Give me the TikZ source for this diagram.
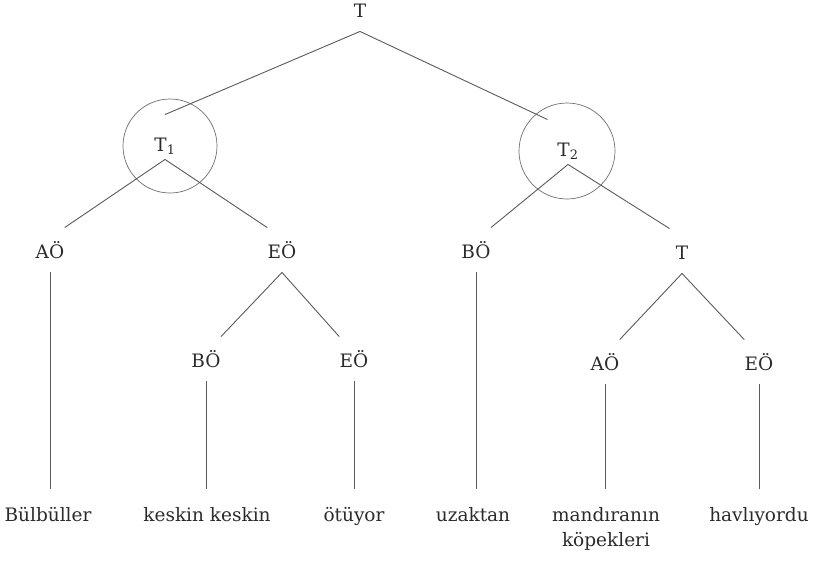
\documentclass[tikz,border=0pt]{standalone}
\usepackage{fontspec}
\setmainfont{DejaVu Serif}
\usepackage{tikz}
\definecolor{inkgray}{HTML}{2B2B2B}
\definecolor{linegray}{HTML}{5A5A5A}
\definecolor{ringgray}{HTML}{6E6E6E}

\begin{document}
\begin{tikzpicture}[x=1pt,y=-1pt,draw=linegray,line width=0.9pt,
  cat/.style={inner sep=0pt,minimum width=24pt,text height=30pt,text depth=14pt,
    anchor=base,text=inkgray,font=\fontsize{18.5}{22}\selectfont},
  sub/.style={cat,minimum width=40pt,text height=36pt,text depth=8pt},
  word/.style={inner xsep=0pt,inner ysep=18pt,anchor=north,align=center,
    text=inkgray,font=\fontsize{18.5}{25}\selectfont},
  ring/.style={circle,draw=ringgray,line width=0.7pt,inner sep=0pt}]
\useasboundingbox (0,0) rectangle (814,562);

% categories
\node[cat] (T0) at (360,17) {T};
\node[sub] (T1) at (165,151) {T\textsubscript{1}};
\node[sub] (T2) at (568,156) {T\textsubscript{2}};
\node[ring,minimum size=94pt] (ring1) at (170,146) {};
\node[ring,minimum size=96pt] (ring2) at (567,151) {};

\node[cat] (A1) at (50,258) {AÖ};
\node[cat] (E1) at (282,258) {EÖ};
\node[cat] (B1) at (476,258) {BÖ};
\node[cat] (T3) at (682,259) {T};

\node[cat] (B2) at (206,367) {BÖ};
\node[cat] (E2) at (354,367) {EÖ};
\node[cat] (A2) at (605,370) {AÖ};
\node[cat] (E3) at (759,370) {EÖ};

% words
\node[word] (w1) at (48,489) {Bülbüller};
\node[word] (w2) at (207,489) {keskin keskin};
\node[word] (w3) at (354,489) {ötüyor};
\node[word] (w4) at (473,489) {uzaktan};
\node[word] (w5) at (606,489) {mandıranın\\köpekleri};
\node[word] (w6) at (759,489) {havlıyordu};

% branches
\draw (T0.south) -- (T1.north);
\draw (T0.south) -- (T2.north west);
\draw (T1.south) -- (A1.north east);
\draw (T1.south) -- (E1.north west);
\draw (T2.south) -- (B1.north east);
\draw (T2.south) -- (T3.north west);
\draw (E1.south) -- (B2.north east);
\draw (E1.south) -- (E2.north west);
\draw (T3.south) -- (A2.north east);
\draw (T3.south) -- (E3.north west);

\foreach \c/\w in {A1/w1,B2/w2,E2/w3,B1/w4,A2/w5,E3/w6}
  \draw (\c.south) -- (\c.south |- \w.north);
\end{tikzpicture}
\end{document}
